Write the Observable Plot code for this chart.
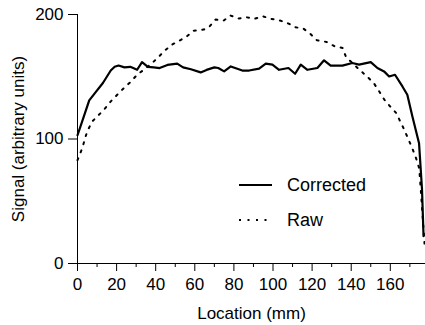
<!DOCTYPE html>
<html>
<head>
<meta charset="utf-8">
<script src="https://cdn.jsdelivr.net/npm/d3@7"></script>
<script src="https://cdn.jsdelivr.net/npm/@observablehq/plot@0.6"></script>
<style>
  html, body { margin: 0; padding: 0; background: #fff; }
  #wrap { position: relative; width: 425px; height: 325px; font-family: "Liberation Sans", Arial, Helvetica, sans-serif; }
  #legend { position: absolute; left: 236px; top: 170px; }
</style>
</head>
<body>
<div id="wrap">
  <div id="chart"></div>
  <svg id="legend" width="140" height="66"></svg>
</div>
<script>
// Corrected signal (location mm, signal)
const correctedX = [0,3,6,9,13,17,19,21,24,27,30.5,33,36,39,42,46,51,54,58,63,66,70,72,75,78.4,84.3,87.8,92.9,96.3,99.7,103.1,107.9,111.3,114.2,117.6,122.7,126.1,129.5,135.5,140.6,144,150,153.4,156.8,159.4,162.4,166.2,168.7,171.3,174.7,176.2,177];
const correctedY = [103,117,131,137,145,155,158,159,157.5,158,155.6,161.7,158,157.5,157,159.5,160.5,157.5,156,153.5,155.5,157.5,157,154.3,158.3,155,155,156.5,160.5,159.7,155.6,157,152.4,159.7,155.6,157,163.2,158.9,158.9,161,159.7,161.7,157,154.3,150.2,151.6,142.2,135.5,118,96.5,60,22];
// Raw signal
const rawX = [0,2.4,4.9,7.5,10.9,13.5,16.9,20.3,23.7,27.1,30.5,33.9,38.2,41.5,45,48.4,52.7,56,59.5,64.6,67.6,70.6,74.8,78.2,82.5,86.4,90.5,94.7,99,103.4,107.2,111.4,115.7,119.1,122.5,127.3,131.5,135.6,137.3,143.8,148.1,151.5,154,157,160,163.1,165.1,167.2,169.4,171.4,173.2,174.8,176,177.5];
const rawY = [83,92.5,105.9,114,119.4,123.4,130,135.5,140.9,145.7,151.6,155.6,161,166,171.5,175.8,179.5,182.5,187,187.9,190.5,195.9,195.2,199.2,196.8,197.8,196.5,198.6,196.5,195.2,193.3,189.8,188.5,184.4,179.3,178,174.5,173.1,166,156.2,150.2,145,139,131.5,126,120.7,114,107.3,99.2,91.9,84.4,76.4,50,16];
// Ticks
const xMajorTicks = [0,20,40,60,80,100,120,140,160];
const xMinorTicks = [10,30,50,70,90,110,130,150,170];
const yTicks = [0,100,200];
const seriesNames = ["Corrected","Raw"];

const corrected = correctedX.map((x,i) => ({x, y: correctedY[i]}));
const raw = rawX.map((x,i) => ({x, y: rawY[i]}));

const chart = Plot.plot({
  width: 425,
  height: 325,
  marginLeft: 77,
  marginRight: 0,
  marginTop: 14,
  marginBottom: 62,
  style: {fontFamily: '"Liberation Sans", Arial, Helvetica, sans-serif', fontSize: "17px", color: "black", background: "white"},
  x: {domain: [0, 178]},
  y: {domain: [0, 200]},
  marks: [
    Plot.axisX({ticks: xMinorTicks, tickSize: 4, tickFormat: () => "", label: null}),
    Plot.axisX({ticks: xMajorTicks, tickSize: 8, tickPadding: 6, tickFormat: d3.format("d"),
      label: "Location (mm)", labelAnchor: "center", labelArrow: "none", labelOffset: 55}),
    Plot.axisY({ticks: yTicks, tickSize: 9, tickPadding: 5, tickFormat: d3.format("d"),
      label: "Signal (arbitrary units)", labelAnchor: "center", labelArrow: "none", labelOffset: 66}),
    Plot.ruleY([0], {stroke: "black", strokeWidth: 1}),
    Plot.ruleX([0], {y1: 0, y2: 200, stroke: "black", strokeWidth: 1}),
    Plot.line(raw, {x: "x", y: "y", stroke: "black", strokeWidth: 2, strokeDasharray: "2,6.5"}),
    Plot.line(corrected, {x: "x", y: "y", stroke: "black", strokeWidth: 2.2})
  ]
});
document.getElementById("chart").appendChild(chart);

// Legend
const lg = d3.select("#legend");
const rows = [
  {name: seriesNames[0], dash: null, w: 2.2},
  {name: seriesNames[1], dash: "2,6.5", w: 2}
];
rows.forEach((r, i) => {
  const cy = 15 + i * 35;
  lg.append("line").attr("x1", 3).attr("x2", 36).attr("y1", cy).attr("y2", cy)
    .attr("stroke", "black").attr("stroke-width", r.w).attr("stroke-dasharray", r.dash);
  lg.append("text").attr("x", 51).attr("y", cy).attr("dy", "0.35em")
    .attr("font-size", 18).attr("fill", "black").text(r.name);
});
</script>
</body>
</html>
